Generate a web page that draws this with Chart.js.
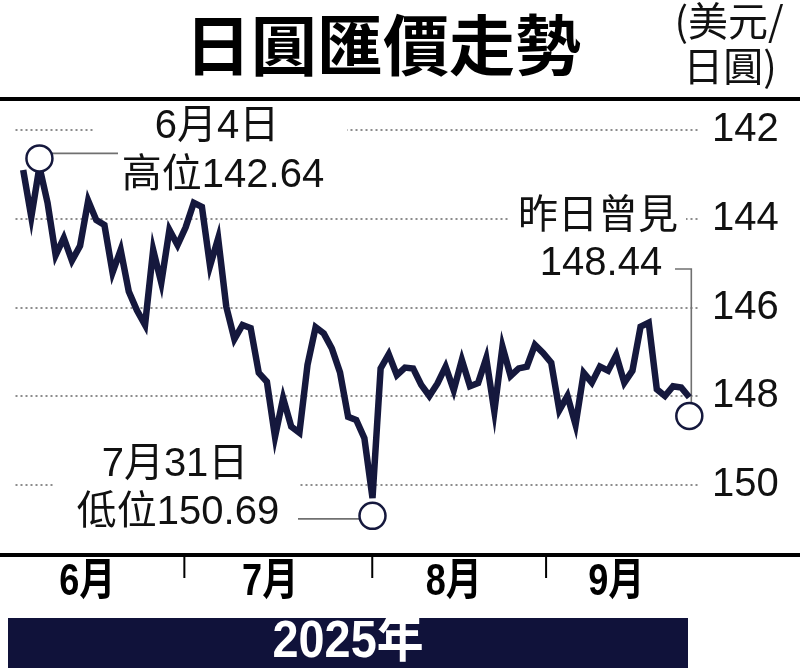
<!DOCTYPE html>
<html>
<head>
<meta charset="utf-8">
<script src="https://cdn.jsdelivr.net/npm/chart.js@4"></script>
<style>
html, body { margin: 0; padding: 0; background: #fff; }
canvas { display: block; }
</style>
</head>
<body>
<canvas id="mycanvas" width="800" height="668"></canvas>
<script>
// trading days, Jun 2 - Sep 24 2025
var dates = [
	'6/2','6/3','6/4','6/5','6/6','6/9','6/10','6/11','6/12','6/13','6/16','6/17','6/18','6/19','6/20','6/23','6/24','6/25','6/26','6/27','6/30',
	'7/1','7/2','7/3','7/4','7/7','7/8','7/9','7/10','7/11','7/14','7/15','7/16','7/17','7/18','7/21','7/22','7/23','7/24','7/25','7/28','7/29','7/30','7/31',
	'8/1','8/4','8/5','8/6','8/7','8/8','8/11','8/12','8/13','8/14','8/15','8/18','8/19','8/20','8/21','8/22','8/25','8/26','8/27','8/28','8/29',
	'9/1','9/2','9/3','9/4','9/5','9/8','9/9','9/10','9/11','9/12','9/15','9/16','9/17','9/18','9/19','9/22','9/23','9/24'
];

// USD/JPY
var rates = [
	142.90, 143.96, 142.83, 143.64, 144.82, 144.43, 144.94, 144.61, 143.59, 144.03,
	144.14, 145.21, 144.70, 145.64, 146.06, 146.39, 144.70, 145.44, 144.25, 144.59,
	144.19, 143.64, 143.73, 145.06, 144.44, 145.98, 146.71, 146.39, 146.46, 147.47,
	147.67, 148.91, 148.04, 148.68, 148.82, 147.29, 146.44, 146.58, 146.92, 147.46,
	148.46, 148.53, 148.94, 150.29, 147.37, 147.05, 147.52, 147.35, 147.37, 147.74,
	147.99, 147.71, 147.33, 147.86, 147.18, 147.77, 147.70, 147.14, 148.34, 146.88,
	147.54, 147.37, 147.33, 146.84, 147.02, 147.24, 148.31, 147.99, 148.64, 147.47,
	147.69, 147.33, 147.42, 147.07, 147.69, 147.42, 146.43, 146.34, 147.84, 147.99,
	147.77, 147.80, 148.02
];

var yTicks = [142, 144, 146, 148, 150];
var monthLabels = ['6月', '7月', '8月', '9月'];

// circled points: high, low, latest
var markDates = ['6/4', '7/31', '9/24'];
var markValues = [142.64, 150.69, 148.44];

var NAVY = '#15183d';
var FONT = "'Liberation Sans', Arial, 'Noto Sans CJK TC', sans-serif";
var CJK = "'Noto Sans CJK TC', 'Noto Sans CJK SC', sans-serif";

// month separators and month label centres, in day-index units
var monthTickAt = [19.84, 42.97, 64.37];
var monthLabelAt = [7.9, 30.4, 53.0, 73.0];

var points = rates.map(function(v, i){ return {x: i, y: v}; });
var marks = markDates.map(function(d, i){ return {x: dates.indexOf(d), y: markValues[i]}; });

function seg(ctx, pts){
	ctx.beginPath();
	ctx.moveTo(pts[0][0], pts[0][1]);
	for (var i = 1; i < pts.length; i++) ctx.lineTo(pts[i][0], pts[i][1]);
	ctx.stroke();
}

function text(ctx, s, x, y, font, color, align){
	ctx.font = font;
	ctx.fillStyle = color || '#111';
	ctx.textAlign = align || 'center';
	ctx.textBaseline = 'middle';
	ctx.fillText(s, x, y);
}

// narrow bold text, squeezed horizontally
function narrow(ctx, s, x, y, size, squeeze, color){
	ctx.save();
	ctx.translate(x, y);
	ctx.scale(squeeze, 1);
	text(ctx, s, 0, 0, 'bold ' + size + 'px ' + FONT, color);
	ctx.restore();
}

var decorations = {
	id: 'decorations',
	beforeDatasetsDraw: function(chart){
		var ctx = chart.ctx, xs = chart.scales.x, ys = chart.scales.y;
		ctx.save();
		// white breaks in the dotted grid behind the notes
		ctx.fillStyle = '#fff';
		[[95, 347, 142], [509, 686, 144], [55, 300, 150]].forEach(function(g){
			var py = ys.getPixelForValue(g[2]);
			ctx.fillRect(g[0], py - 3, g[1] - g[0], 6);
		});
		// leader lines to the circles
		ctx.strokeStyle = '#707070';
		ctx.lineWidth = 1.6;
		var p = marks.map(function(m){ return [xs.getPixelForValue(m.x), ys.getPixelForValue(m.y)]; });
		seg(ctx, [[p[0][0], p[0][1] - 5], [118, p[0][1] - 5]]);
		seg(ctx, [[298, p[1][1] + 3], [p[1][0], p[1][1] + 3]]);
		seg(ctx, [[675, 269], [p[2][0] + 2, 269], [p[2][0] + 2, p[2][1]]]);
		ctx.restore();
	},
	afterDraw: function(chart){
		var ctx = chart.ctx, xs = chart.scales.x;
		ctx.save();
		// title and unit
		text(ctx, '日圓匯價走勢', 383, 45, 'bold 66px ' + CJK, '#000');
		text(ctx, '(美元/', 729, 21, '40px ' + CJK, '#111');
		text(ctx, '日圓)', 730, 66, '40px ' + CJK, '#111');
		ctx.fillStyle = '#000';
		ctx.fillRect(0, 97, 800, 4);

		// x axis
		ctx.fillRect(0, 553, 800, 4);
		monthTickAt.forEach(function(v){
			var px = xs.getPixelForValue(v);
			ctx.fillRect(px - 1, 556, 2, 22);
		});
		monthLabels.forEach(function(s, i){
			narrow(ctx, s, xs.getPixelForValue(monthLabelAt[i]), 583, 44, 0.82, '#000');
		});

		// year bar
		ctx.fillStyle = '#10123a';
		ctx.fillRect(8, 618, 680, 50);
		narrow(ctx, '2025年', 348, 643, 52, 0.9, '#fff');

		// notes
		text(ctx, '6月4日', 217, 127, '40px ' + FONT);
		text(ctx, '高位142.64', 223, 176, '40px ' + FONT);
		text(ctx, '昨日曾見', 598, 217, '40px ' + FONT);
		text(ctx, '148.44', 601, 264, '40px ' + FONT);
		text(ctx, '7月31日', 175, 465, '40px ' + FONT);
		text(ctx, '低位150.69', 178, 513, '40px ' + FONT);
		ctx.restore();
	}
};

var canvas = document.getElementById('mycanvas');

var myChart = new Chart(canvas, {
	type: 'line',
	data: {
		datasets: [
			{
				label: 'marks',
				data: marks,
				showLine: false,
				clip: false,
				pointRadius: 13,
				pointBackgroundColor: '#fff',
				pointBorderColor: NAVY,
				pointBorderWidth: 2.5,
				order: 0
			},
			{
				label: 'USD/JPY',
				data: points,
				borderColor: NAVY,
				borderWidth: 6.5,
				pointRadius: 0,
				tension: 0,
				fill: false,
				order: 1
			}
		]
	},
	options: {
		responsive: false,
		animation: false,
		layout: { padding: { left: 15, right: 0, top: 105, bottom: 115 } },
		plugins: {
			legend: { display: false },
			tooltip: { enabled: false },
			title: { display: false }
		},
		scales: {
			x: { type: 'linear', display: false, min: -0.947, max: 83.316 },
			y: {
				position: 'right',
				reverse: true,
				min: 141.437,
				max: 151.527,
				afterBuildTicks: function(s){ s.ticks = yTicks.map(function(v){ return {value: v}; }); },
				afterFit: function(s){ s.width = 100; },
				grid: { color: '#8c8c8c', lineWidth: 2, drawTicks: false },
				border: { display: false, dash: [2, 3] },
				ticks: { color: '#111', padding: 12, font: { family: FONT, size: 40 } }
			}
		}
	},
	plugins: [decorations]
});
</script>
</body>
</html>
